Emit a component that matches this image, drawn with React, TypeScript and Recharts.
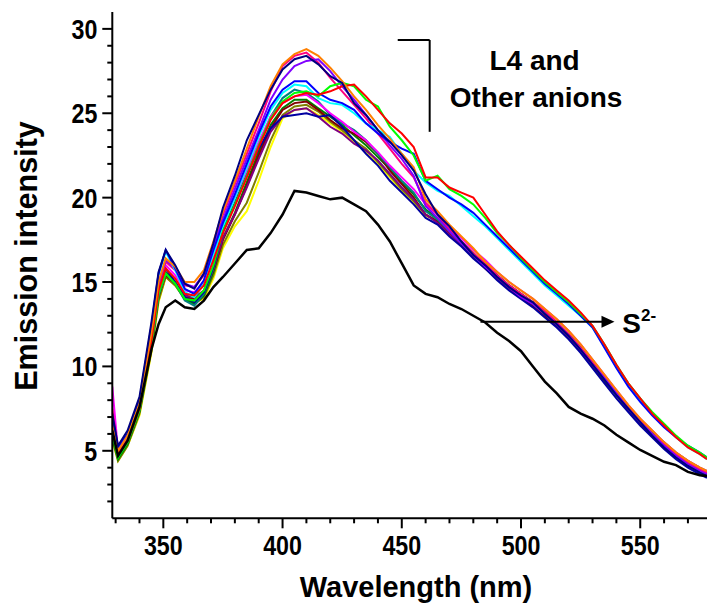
import React from 'react';
import { LineChart, Line, XAxis, YAxis, ReferenceLine, ReferenceDot } from 'recharts';

const WAVELENGTH = [328.6, 331, 335, 340, 345, 348, 351, 355, 359, 363, 367, 371, 375, 380, 385, 390, 395, 400, 405, 410, 415, 420, 425, 430, 435, 440, 445, 450, 455, 460, 465, 470, 475, 480, 485, 490, 495, 500, 505, 510, 515, 520, 525, 530, 535, 540, 545, 550, 555, 560, 565, 570, 575, 578];

const YELLOW = [5.6, 4.4, 5.3, 7.1, 10.8, 13.8, 15.3, 14.8, 14.0, 13.8, 14.0, 15.2, 17.0, 18.3, 19.2, 21.0, 23.0, 24.7, 25.2, 25.3, 24.9, 24.4, 23.9, 23.3, 22.7, 22.0, 21.2, 20.4, 19.7, 18.9, 18.7, 18.0, 17.4, 16.8, 16.2, 15.6, 15.0, 14.5, 14.0, 13.4, 12.8, 12.1, 11.3, 10.4, 9.5, 8.6, 7.7, 6.9, 6.2, 5.5, 4.9, 4.4, 4.0, 3.8];
const DARK_YELLOW = [5.7, 4.4, 5.3, 7.2, 10.9, 13.9, 15.3, 14.8, 14.0, 13.7, 14.1, 15.4, 17.2, 18.6, 19.7, 21.5, 23.4, 24.9, 25.4, 25.5, 25.1, 24.5, 24.0, 23.4, 22.9, 22.1, 21.3, 20.5, 19.8, 19.0, 18.6, 17.9, 17.3, 16.6, 16.0, 15.4, 14.8, 14.3, 13.8, 13.2, 12.6, 11.9, 11.1, 10.2, 9.4, 8.5, 7.6, 6.8, 6.1, 5.5, 4.9, 4.4, 4.0, 3.8];
const DARK_GREEN = [5.8, 4.5, 5.4, 7.3, 11.1, 14.1, 15.6, 15.0, 14.0, 13.7, 14.2, 15.6, 17.6, 19.1, 20.9, 22.7, 24.3, 25.3, 25.8, 25.8, 25.3, 24.8, 24.3, 23.7, 23.1, 22.4, 21.7, 20.9, 20.2, 19.3, 18.8, 18.1, 17.4, 16.7, 16.0, 15.4, 14.8, 14.3, 13.8, 13.2, 12.6, 11.9, 11.1, 10.2, 9.3, 8.4, 7.6, 6.8, 6.1, 5.4, 4.8, 4.3, 3.9, 3.7];
const WINE = [6.1, 4.7, 5.5, 7.4, 11.2, 14.2, 15.4, 14.9, 14.1, 14.0, 14.4, 15.7, 17.5, 19.0, 20.7, 22.5, 24.1, 25.2, 25.6, 25.7, 25.2, 24.6, 24.1, 23.8, 23.3, 22.6, 21.6, 20.8, 20.0, 19.0, 18.6, 17.9, 17.2, 16.5, 15.8, 15.2, 14.6, 14.1, 13.6, 13.0, 12.4, 11.7, 10.9, 10.0, 9.1, 8.3, 7.4, 6.6, 5.9, 5.3, 4.7, 4.2, 3.8, 3.6];
const PURPLE = [6.3, 4.8, 5.6, 7.5, 11.4, 14.3, 15.5, 14.9, 14.2, 14.1, 14.5, 15.8, 17.6, 19.0, 20.6, 22.3, 23.9, 24.8, 25.2, 25.3, 24.8, 24.2, 23.8, 23.2, 22.8, 22.2, 21.4, 20.6, 19.9, 19.0, 18.5, 17.8, 17.2, 16.5, 15.9, 15.2, 14.6, 14.1, 13.7, 13.1, 12.5, 11.8, 11.0, 10.2, 9.3, 8.4, 7.6, 6.8, 6.0, 5.4, 4.8, 4.3, 3.9, 3.7];
const DARK_CYAN = [6.0, 4.7, 5.5, 7.4, 11.3, 14.2, 15.5, 14.9, 13.9, 13.6, 14.3, 15.8, 18.1, 19.7, 21.4, 23.1, 24.8, 25.9, 26.4, 26.2, 25.7, 24.9, 24.4, 24.0, 23.4, 22.6, 21.8, 21.0, 20.3, 19.2, 18.7, 18.0, 17.3, 16.6, 15.9, 15.3, 14.7, 14.2, 13.7, 13.1, 12.5, 11.8, 11.0, 10.1, 9.2, 8.3, 7.5, 6.7, 6.0, 5.3, 4.7, 4.2, 3.8, 3.6];
const ROYAL = [6.4, 4.9, 5.7, 7.6, 11.6, 14.6, 15.8, 15.0, 14.1, 13.8, 14.4, 15.9, 18.0, 19.6, 21.4, 22.9, 24.1, 24.8, 24.9, 25.0, 24.8, 24.9, 24.2, 23.4, 22.6, 21.9, 21.0, 20.3, 19.6, 18.8, 18.4, 17.7, 17.1, 16.4, 15.8, 15.1, 14.5, 14.0, 13.5, 12.9, 12.3, 11.6, 10.8, 9.9, 9.0, 8.1, 7.3, 6.5, 5.8, 5.1, 4.5, 4.0, 3.6, 3.4];
const MAGENTA = [8.8, 5.0, 5.8, 7.7, 11.7, 14.7, 16.0, 15.4, 14.5, 14.4, 15.0, 16.6, 18.4, 20.0, 21.6, 23.3, 24.8, 25.6, 26.0, 26.1, 25.6, 25.0, 24.5, 23.9, 23.4, 22.7, 21.9, 21.2, 20.5, 19.6, 19.0, 18.3, 17.6, 16.9, 16.3, 15.6, 15.0, 14.5, 14.0, 13.4, 12.8, 12.1, 11.3, 10.4, 9.5, 8.6, 7.7, 6.9, 6.2, 5.5, 4.9, 4.4, 4.0, 3.8];
const PINK = [7.5, 5.0, 5.8, 7.7, 11.8, 14.8, 16.2, 15.7, 14.8, 14.7, 15.4, 17.1, 19.0, 20.8, 22.6, 24.4, 26.3, 27.8, 28.4, 28.6, 28.0, 27.1, 26.3, 25.5, 24.7, 23.8, 22.9, 22.0, 21.2, 19.7, 19.0, 18.1, 17.4, 16.7, 16.1, 15.4, 14.8, 14.3, 13.8, 13.3, 12.6, 11.9, 11.1, 10.2, 9.3, 8.4, 7.6, 6.8, 6.0, 5.4, 4.8, 4.3, 3.9, 3.7];
const VIOLET = [6.8, 5.1, 5.9, 7.8, 11.9, 14.9, 16.3, 15.8, 14.9, 14.7, 15.5, 17.2, 18.7, 20.5, 22.3, 24.0, 25.8, 27.0, 27.8, 28.1, 28.2, 27.5, 26.6, 25.8, 24.9, 24.0, 23.1, 22.3, 21.3, 19.5, 18.8, 18.0, 17.3, 16.6, 15.9, 15.3, 14.7, 14.1, 13.7, 13.1, 12.5, 11.8, 11.0, 10.1, 9.3, 8.4, 7.5, 6.7, 6.0, 5.3, 4.7, 4.2, 3.8, 3.6];
const CYAN = [6.6, 5.1, 5.9, 7.9, 12.2, 15.4, 16.8, 15.7, 14.4, 14.1, 14.9, 16.6, 18.3, 20.0, 21.8, 23.6, 25.2, 26.2, 26.7, 26.6, 25.9, 25.6, 25.5, 25.0, 24.4, 24.0, 23.6, 22.6, 21.6, 20.9, 20.4, 20.1, 19.5, 18.9, 18.3, 17.6, 16.9, 16.2, 15.5, 14.8, 14.2, 13.6, 13.0, 12.3, 11.2, 10.0, 8.9, 8.0, 7.2, 6.5, 5.8, 5.2, 4.8, 4.5];
const BLUE = [7.0, 5.2, 6.0, 8.0, 12.4, 15.5, 16.9, 15.8, 14.6, 14.3, 15.1, 16.9, 18.5, 20.2, 22.0, 23.8, 25.4, 26.4, 26.9, 26.9, 26.2, 25.8, 25.6, 25.2, 24.4, 23.8, 23.3, 22.9, 22.6, 21.0, 20.5, 20.0, 19.6, 19.1, 18.4, 17.7, 17.0, 16.3, 15.6, 14.9, 14.3, 13.7, 13.0, 12.3, 11.1, 9.9, 8.8, 7.9, 7.1, 6.4, 5.8, 5.3, 4.9, 4.6];
const GREEN = [6.0, 4.6, 5.5, 7.4, 11.3, 14.3, 15.5, 14.9, 14.0, 13.9, 14.5, 16.0, 18.0, 19.6, 21.3, 23.1, 24.7, 25.7, 26.2, 26.3, 26.0, 26.6, 26.8, 26.6, 25.8, 25.4, 24.2, 23.4, 22.5, 21.0, 21.3, 20.5, 20.1, 19.6, 18.8, 17.9, 17.2, 16.4, 15.7, 15.0, 14.4, 13.8, 13.1, 12.4, 11.3, 10.1, 9.0, 8.1, 7.3, 6.6, 5.9, 5.3, 4.9, 4.6];
const RED = [6.2, 4.8, 5.6, 7.5, 11.5, 14.5, 15.8, 15.2, 14.3, 14.2, 14.8, 16.3, 17.9, 19.5, 21.2, 23.0, 24.6, 25.6, 26.0, 26.2, 26.1, 26.3, 26.6, 26.7, 26.0, 25.2, 24.4, 23.8, 23.0, 21.2, 21.2, 20.6, 20.3, 20.0, 19.0, 18.0, 17.2, 16.5, 15.8, 15.1, 14.5, 13.9, 13.2, 12.4, 11.3, 10.1, 9.0, 8.1, 7.2, 6.5, 5.8, 5.2, 4.8, 4.5];
const ORANGE = [6.5, 5.0, 5.9, 7.8, 12.0, 15.0, 16.4, 15.9, 15.0, 15.0, 15.7, 17.4, 19.2, 21.0, 22.9, 24.8, 26.6, 27.9, 28.5, 28.8, 28.4, 27.7, 26.9, 26.0, 25.2, 24.3, 23.5, 22.6, 21.8, 19.9, 19.2, 18.4, 17.7, 17.0, 16.2, 15.6, 15.0, 14.5, 14.0, 13.4, 12.8, 12.1, 11.3, 10.4, 9.5, 8.6, 7.7, 6.9, 6.2, 5.5, 4.9, 4.4, 4.0, 3.8];
const NAVY = [7.2, 5.3, 6.2, 8.2, 12.6, 15.6, 16.9, 16.0, 14.9, 14.6, 15.5, 17.3, 19.4, 21.3, 23.4, 24.9, 26.4, 27.6, 28.2, 28.4, 27.9, 27.2, 26.8, 25.6, 24.9, 24.0, 23.3, 22.5, 21.6, 20.2, 19.0, 18.3, 17.4, 16.6, 16.0, 15.3, 14.7, 14.2, 13.8, 13.1, 12.5, 11.8, 11.0, 10.1, 9.2, 8.3, 7.5, 6.7, 5.9, 5.2, 4.6, 4.1, 3.7, 3.5];
const SULFIDE = [6.2, 4.7, 5.6, 7.6, 11.0, 12.5, 13.5, 13.9, 13.5, 13.4, 13.9, 14.7, 15.3, 16.1, 16.9, 17.0, 17.9, 19.0, 20.4, 20.3, 20.1, 19.9, 20.0, 19.6, 19.2, 18.4, 17.4, 16.1, 14.8, 14.3, 14.1, 13.7, 13.4, 13.0, 12.6, 12.0, 11.5, 10.9, 10.0, 9.1, 8.4, 7.6, 7.2, 6.9, 6.5, 5.95, 5.5, 5.05, 4.7, 4.35, 4.15, 3.75, 3.55, 3.5];

const X_TICKS = [330, 340, 350, 360, 370, 380, 390, 400, 410, 420, 430, 440, 450, 460, 470, 480, 490, 500, 510, 520, 530, 540, 550, 560, 570];
const Y_TICKS = [2, 3, 4, 5, 6, 7, 8, 9, 10, 11, 12, 13, 14, 15, 16, 17, 18, 19, 20, 21, 22, 23, 24, 25, 26, 27, 28, 29, 30];
const X_LABELED = [350, 400, 450, 500, 550];
const Y_LABELED = [5, 10, 15, 20, 25, 30];

const SERIES = [
  { key: 'yellow', color: '#FFFF00', values: YELLOW },
  { key: 'darkYellow', color: '#808000', values: DARK_YELLOW },
  { key: 'darkGreen', color: '#008000', values: DARK_GREEN },
  { key: 'wine', color: '#800000', values: WINE },
  { key: 'purple', color: '#800080', values: PURPLE },
  { key: 'darkCyan', color: '#008080', values: DARK_CYAN },
  { key: 'royal', color: '#0000A0', values: ROYAL },
  { key: 'magenta', color: '#FF00FF', values: MAGENTA },
  { key: 'pink', color: '#FF0080', values: PINK },
  { key: 'violet', color: '#8000FF', values: VIOLET },
  { key: 'cyan', color: '#00FFFF', values: CYAN },
  { key: 'blue', color: '#0000FF', values: BLUE },
  { key: 'green', color: '#00FF00', values: GREEN },
  { key: 'red', color: '#FF0000', values: RED },
  { key: 'orange', color: '#FF8000', values: ORANGE },
  { key: 'navy', color: '#000080', values: NAVY },
  { key: 'sulfide', color: '#000000', values: SULFIDE },
];

const DATA = WAVELENGTH.map((w, i) => {
  const row: Record<string, number> = { w };
  SERIES.forEach((s) => { row[s.key] = s.values[i]; });
  return row;
});

const FONT = '"Liberation Sans", Arial, Helvetica, sans-serif';

const XTick = (props: any) => {
  const { x, y, payload } = props;
  const v = payload.value;
  const major = X_LABELED.includes(v);
  return (
    <g>
      <line x1={x} x2={x} y1={y} y2={y + (major ? 10 : 5)} stroke="#000" strokeWidth={2} />
      {major && (
        <text transform={`translate(${x},${y + 37}) scale(0.83,1)`} textAnchor="middle" fontFamily={FONT} fontWeight="bold" fontSize={28} fill="#000">
          {v}
        </text>
      )}
    </g>
  );
};

const YTick = (props: any) => {
  const { x, y, payload } = props;
  const v = payload.value;
  const major = Y_LABELED.includes(v);
  return (
    <g>
      <line x1={x - (major ? 10 : 5)} x2={x} y1={y} y2={y} stroke="#000" strokeWidth={2} />
      {major && (
        <text transform={`translate(${x - 15},${y + 10}) scale(0.83,1)`} textAnchor="end" fontFamily={FONT} fontWeight="bold" fontSize={28} fill="#000">
          {v}
        </text>
      )}
    </g>
  );
};

const Arrow = (props: any) => {
  const { x1, y1, x2, y2 } = props;
  const head = 13;
  return (
    <g>
      <line x1={x1} y1={y1} x2={x2 - head + 1} y2={y2} stroke="#000" strokeWidth={2} />
      <polygon points={`${x2},${y2} ${x2 - head},${y2 - 6} ${x2 - head},${y2 + 6}`} fill="#000" />
    </g>
  );
};

const textLabel = (value: string) => ({
  content: (p: any) => {
    const vb = p.viewBox || {};
    return (
      <text x={vb.x} y={vb.y} textAnchor="middle" fontFamily={FONT} fontWeight="bold" fontSize={28} fill="#000">
        {value}
      </text>
    );
  },
});

const sulfideLabel = {
  content: (p: any) => {
    const vb = p.viewBox || {};
    return (
      <text x={vb.x} y={vb.y} textAnchor="start" fontFamily={FONT} fontWeight="bold" fill="#000">
        <tspan fontSize={28}>S</tspan>
        <tspan fontSize={17} dy={-12}>2-</tspan>
      </text>
    );
  },
};

export default function App() {
  return (
    <div style={{ position: 'absolute', left: 0, top: 0, width: 707, height: 609, background: '#fff' }}>
      <LineChart width={707} height={609} data={DATA} margin={{ top: 12, right: 0, left: 0, bottom: 0 }}>
        <XAxis
          dataKey="w"
          type="number"
          domain={[328.6, 578]}
          allowDataOverflow
          ticks={X_TICKS}
          interval={0}
          tick={<XTick />}
          tickLine={false}
          tickSize={0}
          tickMargin={0}
          height={90.7}
          axisLine={{ stroke: '#000', strokeWidth: 2 }}
          label={{
            content: () => (
              <text x={416} y={597} textAnchor="middle" fontFamily={FONT} fontWeight="bold" fontSize={29} fill="#000">
                Wavelength (nm)
              </text>
            ),
          }}
        />
        <XAxis
          xAxisId="top"
          dataKey="w"
          type="number"
          orientation="top"
          domain={[328.6, 578]}
          allowDataOverflow
          height={0}
          tick={false}
          tickLine={false}
          axisLine={{ stroke: '#000', strokeWidth: 2 }}
        />
        <YAxis
          type="number"
          domain={[1, 31]}
          allowDataOverflow
          ticks={Y_TICKS}
          interval={0}
          tick={<YTick />}
          tickLine={false}
          tickSize={0}
          tickMargin={0}
          width={112.3}
          axisLine={{ stroke: '#000', strokeWidth: 2 }}
          label={{
            content: () => (
              <text transform="translate(37,256) rotate(-90)" textAnchor="middle" fontFamily={FONT} fontWeight="bold" fontSize={30.5} fill="#000">
                Emission intensity
              </text>
            ),
          }}
        />
        {SERIES.map((s) => (
          <Line
            key={s.key}
            dataKey={s.key}
            stroke={s.color}
            strokeWidth={s.key === 'sulfide' ? 2.5 : 2}
            dot={false}
            activeDot={false}
            isAnimationActive={false}
            type="linear"
          />
        ))}
        <ReferenceLine segment={[{ x: 448.3, y: 29.34 }, { x: 461.7, y: 29.34 }]} stroke="#000" strokeWidth={2} />
        <ReferenceLine segment={[{ x: 461.7, y: 29.34 }, { x: 461.7, y: 23.9 }]} stroke="#000" strokeWidth={2} />
        <ReferenceLine segment={[{ x: 483, y: 12.65 }, { x: 539.2, y: 12.65 }]} shape={<Arrow />} />
        <ReferenceDot x={505.7} y={27.56} r={0} fill="none" stroke="none" label={textLabel('L4 and')} />
        <ReferenceDot x={506.3} y={25.39} r={0} fill="none" stroke="none" label={textLabel('Other anions')} />
        <ReferenceDot x={542.5} y={12.0} r={0} fill="none" stroke="none" label={sulfideLabel} />
      </LineChart>
    </div>
  );
}
